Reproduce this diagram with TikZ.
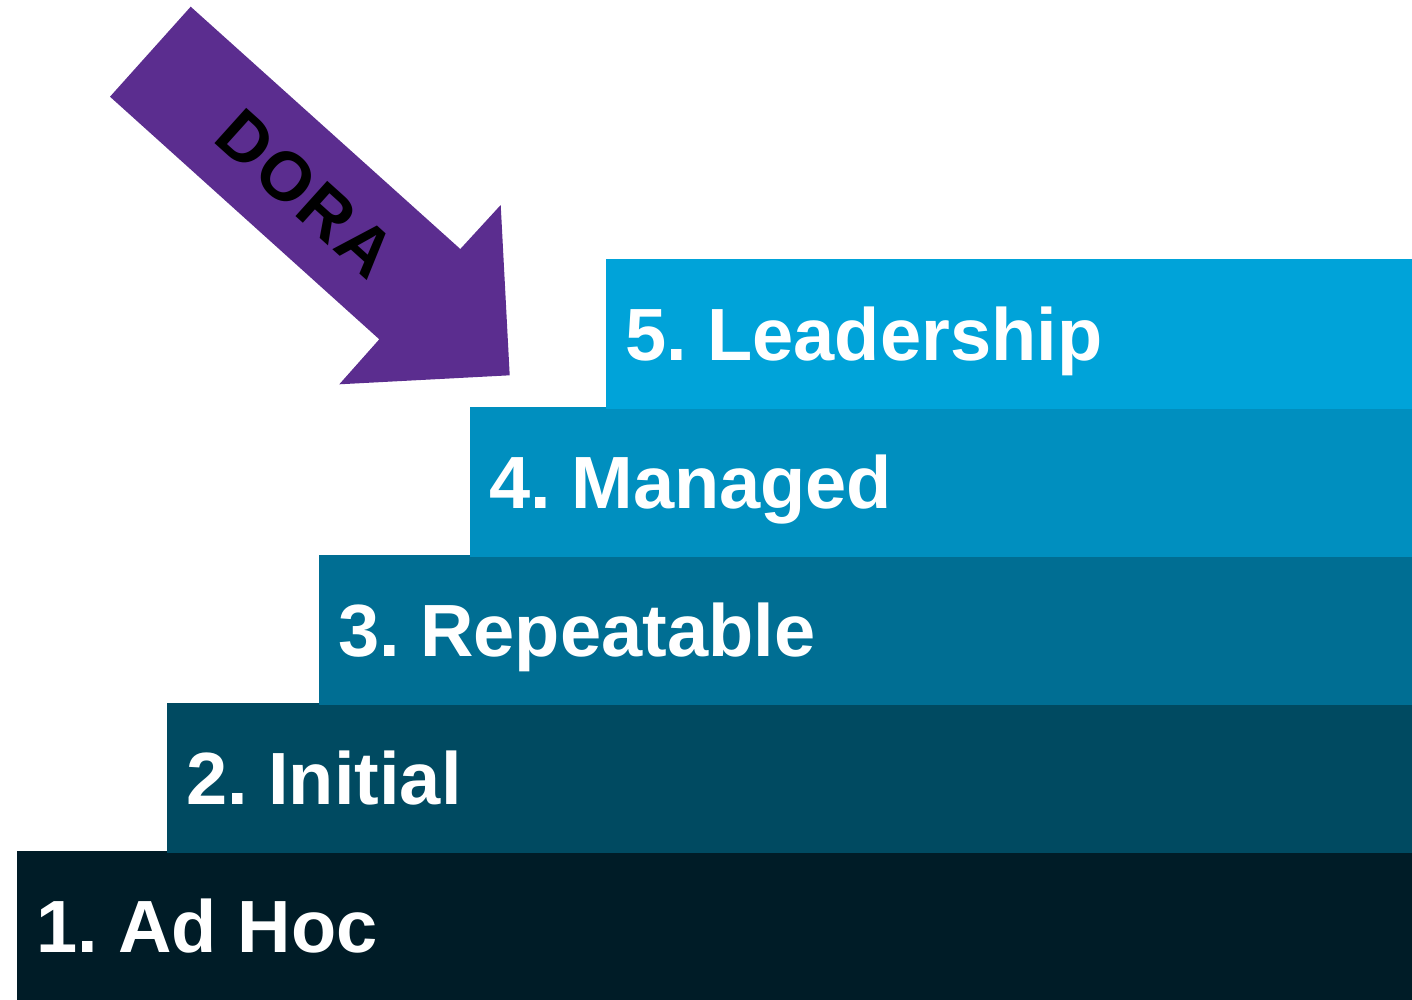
\documentclass[tikz,border=0pt]{standalone}
\usepackage{fontspec}
\setmainfont{Liberation Sans}
\frenchspacing
\definecolor{stepa}{HTML}{001C27}
\definecolor{stepb}{HTML}{004A61}
\definecolor{stepc}{HTML}{006E93}
\definecolor{stepd}{HTML}{008FBF}
\definecolor{stepe}{HTML}{00A3D9}
\definecolor{dorapurple}{HTML}{5B2D8F}
\tikzset{
    stepbox/.style={anchor=north west,inner sep=0pt,outer sep=0pt,minimum height=150pt},
    steplabel/.style={anchor=base west,inner sep=0pt,text=white,font=\bfseries\fontsize{74}{80}\selectfont}
}
\begin{document}
\begin{tikzpicture}[x=1pt,y=-1pt]
    \useasboundingbox (0,0) rectangle (1412,999);
    % the five steps, lowest first
    \foreach \n/\x/\y/\c/\t in {1/17/851/stepa/{1. Ad Hoc},2/167/703/stepb/{2. Initial},
        3/319/555/stepc/{3. Repeatable},4/470/407/stepd/{4. Managed},5/606/259/stepe/{5. Leadership}}{
        \node[stepbox,fill=\c,minimum width=1412pt-\x pt] (s\n) at (\x,\y) {};
        \node[steplabel] (l\n) at ([xshift=19pt,yshift=-101pt]s\n.north west) {\t};
    }
    % arrow pointing down onto the top step
    \fill[dorapurple] (190.7,6.7) -- (460.3,249) -- (500.7,205) -- (509.7,375.3)
        -- (339.3,384.3) -- (379.3,339.3) -- (110,96.7) -- cycle;
    \node[rotate=-42,inner sep=0pt,font=\bfseries\fontsize{69}{74}\selectfont\addfontfeature{LetterSpace=4}]
        (dora) at (306,194) {DORA};
\end{tikzpicture}
\end{document}
